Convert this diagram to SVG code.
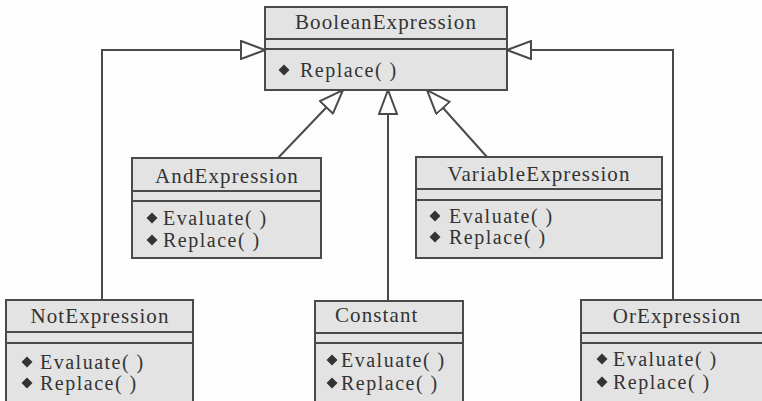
<svg xmlns="http://www.w3.org/2000/svg" xmlns:xlink="http://www.w3.org/1999/xlink" width="762" height="401" viewBox="0 0 762 401">
  <style>
    .box { fill: #e3e3e3; stroke: #4a4a4a; stroke-width: 2; }
    .sep { stroke: #4a4a4a; stroke-width: 2; fill: none; }
    .name { font-family: "Liberation Serif", "Times New Roman", serif; font-size: 21px; letter-spacing: 1.1px; fill: #333; }
    .op { font-family: "Liberation Serif", "Times New Roman", serif; font-size: 20px; letter-spacing: 1.5px; fill: #333; }
    .edge { stroke: #4a4a4a; stroke-width: 2; fill: none; marker-end: url(#gen); }
    .dia { fill: #333; }
  </style>
  <defs>
    <!-- hollow generalization arrowhead -->
    <marker id="gen" viewBox="-1 -1 26 20" refX="24" refY="9" markerWidth="26" markerHeight="20" markerUnits="userSpaceOnUse" orient="auto">
      <path d="M0,0 L24,9 L0,18 Z" fill="#fff" stroke="#4a4a4a" stroke-width="2" stroke-linejoin="miter"/>
    </marker>
    <!-- operation bullet -->
    <path id="dm" d="M0,-5.5 L5.5,0 L0,5.5 L-5.5,0 Z"/>
  </defs>

  <rect width="762" height="401" fill="#fdfdfd"/>

  <g id="connectors">
    <polyline class="edge" points="102,300 102,50 265,50"/>
    <polyline class="edge" points="673,300 673,50 507,50"/>
    <line class="edge" x1="388" y1="301" x2="388" y2="90"/>
    <line class="edge" x1="278" y1="158" x2="343" y2="90"/>
    <line class="edge" x1="487" y1="157" x2="427" y2="90"/>
  </g>

  <g id="BooleanExpression">
    <rect class="box" x="265" y="7" width="242" height="83"/>
    <line class="sep" x1="265" y1="39" x2="507" y2="39"/>
    <line class="sep" x1="265" y1="49" x2="507" y2="49"/>
    <text class="name" x="386" y="29" text-anchor="middle">BooleanExpression</text>
    <use class="dia" xlink:href="#dm" x="284" y="70"/>
    <text class="op" x="300" y="77">Replace( )</text>
  </g>

  <g id="AndExpression">
    <rect class="box" x="132" y="158" width="189" height="100"/>
    <line class="sep" x1="132" y1="191" x2="321" y2="191"/>
    <line class="sep" x1="132" y1="201" x2="321" y2="201"/>
    <text class="name" x="227" y="183" text-anchor="middle">AndExpression</text>
    <use class="dia" xlink:href="#dm" x="152" y="218"/>
    <text class="op" x="163" y="225">Evaluate( )</text>
    <use class="dia" xlink:href="#dm" x="152" y="240"/>
    <text class="op" x="163" y="247">Replace( )</text>
  </g>

  <g id="VariableExpression">
    <rect class="box" x="416" y="157" width="246" height="101"/>
    <line class="sep" x1="416" y1="189" x2="662" y2="189"/>
    <line class="sep" x1="416" y1="200" x2="662" y2="200"/>
    <text class="name" x="539" y="181" text-anchor="middle">VariableExpression</text>
    <use class="dia" xlink:href="#dm" x="435" y="216"/>
    <text class="op" x="449" y="223">Evaluate( )</text>
    <use class="dia" xlink:href="#dm" x="435" y="237"/>
    <text class="op" x="449" y="244">Replace( )</text>
  </g>

  <g id="NotExpression">
    <rect class="box" x="6" y="300" width="187" height="110"/>
    <line class="sep" x1="6" y1="332" x2="193" y2="332"/>
    <line class="sep" x1="6" y1="343" x2="193" y2="343"/>
    <text class="name" x="100" y="323" text-anchor="middle">NotExpression</text>
    <use class="dia" xlink:href="#dm" x="27" y="362"/>
    <text class="op" x="40" y="369">Evaluate( )</text>
    <use class="dia" xlink:href="#dm" x="27" y="383"/>
    <text class="op" x="40" y="390">Replace( )</text>
  </g>

  <g id="Constant">
    <rect class="box" x="315" y="301" width="148" height="110"/>
    <line class="sep" x1="315" y1="333" x2="463" y2="333"/>
    <line class="sep" x1="315" y1="343" x2="463" y2="343"/>
    <text class="name" x="335" y="322">Constant</text>
    <use class="dia" xlink:href="#dm" x="332" y="360"/>
    <text class="op" x="341" y="367">Evaluate( )</text>
    <use class="dia" xlink:href="#dm" x="332" y="383"/>
    <text class="op" x="341" y="390">Replace( )</text>
  </g>

  <g id="OrExpression">
    <rect class="box" x="581" y="300" width="185" height="110"/>
    <line class="sep" x1="581" y1="333" x2="766" y2="333"/>
    <line class="sep" x1="581" y1="343" x2="766" y2="343"/>
    <text class="name" x="677" y="323" text-anchor="middle">OrExpression</text>
    <use class="dia" xlink:href="#dm" x="602" y="359"/>
    <text class="op" x="613" y="366">Evaluate( )</text>
    <use class="dia" xlink:href="#dm" x="602" y="382"/>
    <text class="op" x="613" y="389">Replace( )</text>
  </g>
</svg>
